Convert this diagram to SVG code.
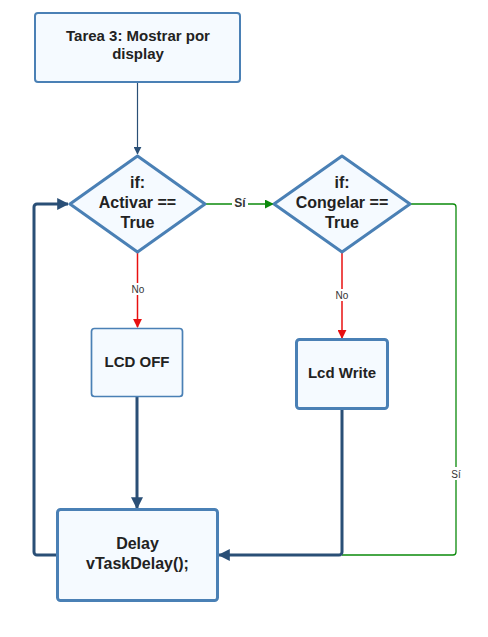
<svg xmlns="http://www.w3.org/2000/svg" width="488" height="637" viewBox="0 0 488 637">
<style>
.node{fill:#f5faff;stroke:#4a80b5;stroke-linejoin:round}
.t{font-family:"Liberation Sans",Arial,sans-serif;font-weight:bold;font-size:15px;fill:#222;text-anchor:middle}
.lbl{font-family:"Liberation Sans",Arial,sans-serif;font-size:10px;fill:#333;text-anchor:middle}
.navy{fill:none;stroke:#2a4f76;stroke-linejoin:round}
.green{fill:none;stroke:#0b8a0b;stroke-width:1.3}
.red{fill:none;stroke:#e81010;stroke-width:1.5}
</style>
<defs>
<marker id="an" viewBox="0 0 10 10" refX="9" refY="5" markerWidth="8" markerHeight="8" markerUnits="userSpaceOnUse" orient="auto"><path d="M0,0L10,5L0,10z" fill="#2a4f76"/></marker>
<marker id="anb" viewBox="0 0 10 10" refX="9" refY="5" markerWidth="12" markerHeight="12" markerUnits="userSpaceOnUse" orient="auto"><path d="M0,0L10,5L0,10z" fill="#2a4f76"/></marker>
<marker id="ag" viewBox="0 0 10 10" refX="9" refY="5" markerWidth="9" markerHeight="9" markerUnits="userSpaceOnUse" orient="auto"><path d="M0,0L10,5L0,10z" fill="#0b8a0b"/></marker>
<marker id="ar" viewBox="0 0 10 10" refX="9" refY="5" markerWidth="9" markerHeight="9" markerUnits="userSpaceOnUse" orient="auto"><path d="M0,0L10,5L0,10z" fill="#e81010"/></marker>
</defs>
<g id="connectors">
<path class="navy" stroke-width="1.2" d="M137.5,82V154" marker-end="url(#an)"/>
<path class="green" d="M205,204H273" marker-end="url(#ag)"/>
<path class="green" d="M410,204H453a3,3 0 0 1 3,3V552a3,3 0 0 1 -3,3H342"/>
<path class="red" d="M137.5,252V327" marker-end="url(#ar)"/>
<path class="red" d="M342,252V338" marker-end="url(#ar)"/>
<path class="navy" stroke-width="3" d="M137,397V508" marker-end="url(#anb)"/>
<path class="navy" stroke-width="3" d="M342,409V552a3,3 0 0 1 -3,3H219" marker-end="url(#anb)"/>
<path class="navy" stroke-width="3" d="M57,555H37a3,3 0 0 1 -3,-3V207a3,3 0 0 1 3,-3H68" marker-end="url(#anb)"/>
<rect x="232" y="196" width="16" height="14" fill="#fff"/>
<text class="lbl" x="240" y="207" style="font-size:12px;font-weight:bold">Sí</text>
<rect x="128" y="283" width="20" height="12" fill="#fff"/>
<text class="lbl" x="138" y="293">No</text>
<rect x="332" y="289" width="20" height="12" fill="#fff"/>
<text class="lbl" x="342" y="299">No</text>
<rect x="450" y="467" width="12" height="13" fill="#fff"/>
<text class="lbl" x="456" y="478">Sí</text>
</g>
<g id="start">
<rect class="node" x="35" y="13" width="205" height="69" rx="3" stroke-width="2"/>
<text class="t" x="138" y="41">Tarea 3: Mostrar por</text>
<text class="t" x="138" y="59">display</text>
</g>
<g id="if-activar">
<path class="node" d="M137.5,156L205,204L137.5,252L70,204Z" stroke-width="3"/>
<text class="t" x="137.5" y="188" style="font-size:16px">if:</text>
<text class="t" x="137.5" y="208" style="font-size:16px">Activar ==</text>
<text class="t" x="137.5" y="228" style="font-size:16px">True</text>
</g>
<g id="if-congelar">
<path class="node" d="M342,156L410,204L342,252L274,204Z" stroke-width="3"/>
<text class="t" x="342" y="188" style="font-size:16px">if:</text>
<text class="t" x="342" y="208" style="font-size:16px">Congelar ==</text>
<text class="t" x="342" y="228" style="font-size:16px">True</text>
</g>
<g id="lcd-off">
<rect class="node" x="91.5" y="328.5" width="91" height="68" rx="3" stroke-width="1.7"/>
<text class="t" x="137" y="367">LCD OFF</text>
</g>
<g id="lcd-write">
<rect class="node" x="296.5" y="339.5" width="91" height="69" rx="3" stroke-width="3"/>
<text class="t" x="342" y="378">Lcd Write</text>
</g>
<g id="delay">
<rect class="node" x="57.5" y="509.5" width="160" height="91" rx="3" stroke-width="3"/>
<text class="t" x="137.5" y="549" style="font-size:16px">Delay</text>
<text class="t" x="137.5" y="569" style="font-size:16px">vTaskDelay();</text>
</g>
</svg>
